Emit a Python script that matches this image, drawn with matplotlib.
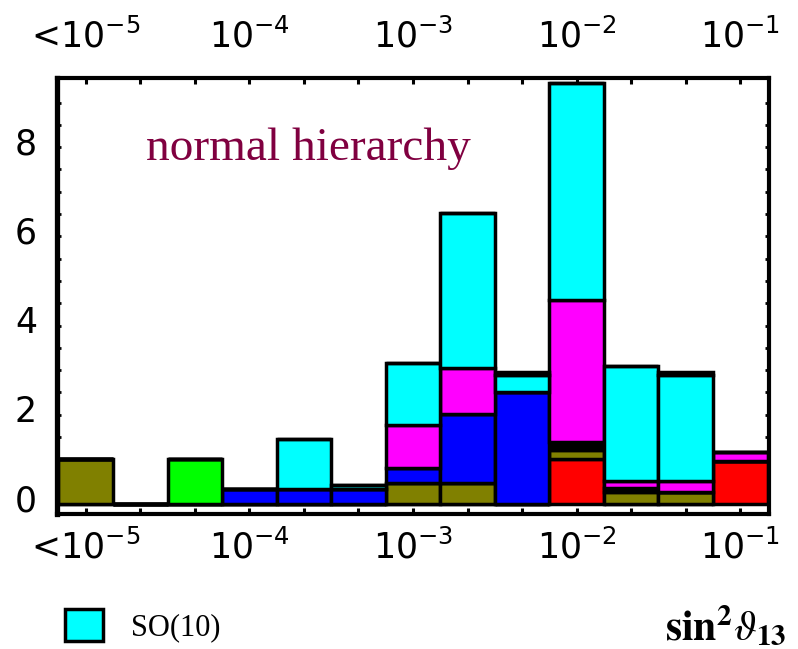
import numpy as np
import matplotlib
matplotlib.use("Agg")
import matplotlib.pyplot as plt
from matplotlib.transforms import ScaledTranslation
from matplotlib.ticker import FixedLocator, NullFormatter

# ---- data -------------------------------------------------------------
# bin centres, log10(sin^2 theta_13); first bin is the underflow "<1e-5"
bin_log10 = [-5.0, -4.6667, -4.3333, -4.0, -3.6667, -3.3333, -3.0,
             -2.6667, -2.3333, -2.0, -1.6667, -1.3333, -1.0]
tick_labels = ['<$10^{-5}$', '$10^{-4}$', '$10^{-3}$', '$10^{-2}$', '$10^{-1}$']

# stacked segment heights per bin (bottom to top)
red       = [0, 0, 0, 0, 0, 0, 0, 0, 0, 1.00, 0, 0, 0.97]
olive     = [1.00, 0, 0, 0, 0, 0, 0.47, 0.47, 0, 0.22, 0.27, 0.27, 0]
black     = [0, 0, 0, 0, 0, 0, 0, 0, 0, 0.16, 0.08, 0, 0]
blue      = [0, 0, 0, 0.33, 0.33, 0.33, 0.33, 1.55, 2.52, 0, 0, 0, 0]
green     = [0, 0, 1.00, 0, 0, 0, 0, 0, 0, 0, 0, 0, 0]
magenta   = [0, 0, 0, 0, 0, 0, 0.96, 1.02, 0, 3.19, 0.17, 0.25, 0.20]
cyan      = [0, 0, 0, 0, 1.13, 0.10, 1.41, 3.48, 0.37, 4.87, 2.57, 2.38, 0]
black_top = [0, 0, 0, 0, 0, 0, 0, 0, 0.07, 0, 0, 0.06, 0]

series = [("red", red, "#ff0000"),
          ("olive", olive, "#808000"),
          ("other", black, "#000000"),
          ("blue", blue, "#0000ff"),
          ("green", green, "#00ff00"),
          ("magenta", magenta, "#ff00ff"),
          ("SO(10)", cyan, "#00ffff"),
          ("other top", black_top, "#000000")]
legend_labels = ["SO(10)"]

# ---- figure -----------------------------------------------------------
fig = plt.figure(figsize=(7.98, 6.49), dpi=100)
ax = fig.add_axes([56.5 / 798, 135 / 649, 712 / 798, 436 / 649])
ax.set_xscale("log")

centers = np.array(bin_log10)
half = (centers[1] - centers[0]) / 2
left_edges = 10 ** (centers - half)
right_edges = 10 ** (centers + half)
widths = right_edges - left_edges

bottom = np.zeros(len(centers))
containers = {}
for name, vals, col in series:
    vals = np.array(vals, dtype=float)
    c = ax.bar(left_edges, vals, width=widths, bottom=bottom, align="edge",
               color=col, edgecolor="black", linewidth=2.5, zorder=2)
    containers[name] = c
    bottom += vals

ax.set_xlim(10 ** (centers[0] - half - 0.012), 10 ** (centers[-1] + half + 0.006))
ax.set_ylim(-0.224, 9.55)

# x ticks: every bin centre, labelled every decade
major_x = 10 ** centers[::3]
minor_x = 10 ** np.delete(centers, np.arange(0, len(centers), 3))
ax.xaxis.set_major_locator(FixedLocator(major_x))
ax.xaxis.set_minor_locator(FixedLocator(minor_x))
ax.set_xticklabels(tick_labels)
ax.xaxis.set_minor_formatter(NullFormatter())

ax.yaxis.set_major_locator(FixedLocator([0, 2, 4, 6, 8]))
ax.yaxis.set_minor_locator(FixedLocator(np.arange(0.5, 9.5, 0.5)))
ax.set_yticklabels(["0", "2", "4", "6", "8"])

for s in ax.spines.values():
    s.set_linewidth(3)
ax.spines["left"].set_linewidth(3.8)

ax.tick_params(axis="x", which="both", direction="in", length=4.5, width=2.2,
               top=True, bottom=True, labeltop=True, labelbottom=True,
               labelsize=25, pad=11)
ax.tick_params(axis="y", which="both", direction="in", length=3, width=2,
               left=True, right=True, labelsize=25, pad=14)

for lab in ax.get_xticklabels() + ax.get_yticklabels():
    lab.set_fontfamily("DejaVu Sans")

# shift top labels up and y labels slightly up
for t in ax.xaxis.get_major_ticks():
    t.label2.set_transform(t.label2.get_transform() +
                           ScaledTranslation(0, 0.08, fig.dpi_scale_trans))
for t in ax.yaxis.get_major_ticks():
    t.label1.set_transform(t.label1.get_transform() +
                           ScaledTranslation(0, 0.06, fig.dpi_scale_trans))

ax.text(0.125, 0.812, "normal hierarchy", transform=ax.transAxes,
        fontfamily="Liberation Serif", fontsize=34, color="#800040",
        ha="left", va="baseline")

fig.legend(handles=[containers["SO(10)"]], labels=legend_labels,
           loc="upper left", bbox_to_anchor=(65 / 798, 1 - 609 / 649),
           frameon=False, borderpad=0, borderaxespad=0,
           handlelength=1.25, handleheight=1.25, handletextpad=0.9,
           prop={"family": "Liberation Serif", "size": 22})

fig.text(665 / 798, 9 / 649, r"$\mathbf{sin}^{\mathbf{2}}\vartheta_{\mathbf{13}}$",
         math_fontfamily="stix", fontsize=30, ha="left", va="baseline")

fig.savefig("out.png", dpi=100)
